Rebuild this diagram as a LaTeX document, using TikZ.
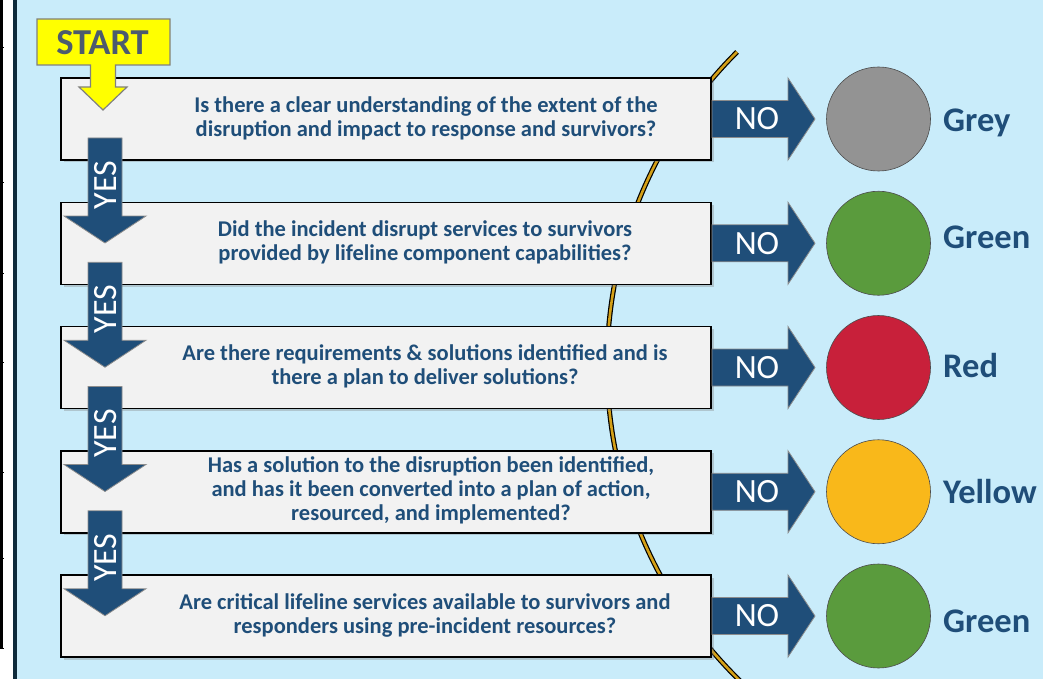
\documentclass[tikz,border=0pt]{standalone}
\usepackage{fontspec}
\setmainfont{Carlito}
\usetikzlibrary{shadows}
\definecolor{bg}{HTML}{C9ECFA}
\definecolor{navy}{HTML}{1F4E79}
\definecolor{boxfill}{HTML}{F2F2F2}
\definecolor{gold}{HTML}{D4A017}
\definecolor{cgrey}{HTML}{939393}
\definecolor{cgreen}{HTML}{5A9B3D}
\definecolor{cred}{HTML}{C8203A}
\definecolor{cyellow}{HTML}{F9B81A}
\definecolor{startcol}{HTML}{4C5B6E}
\definecolor{strip}{HTML}{0E2B3B}
\definecolor{startyellow}{HTML}{FFFF00}

\begin{document}
\begin{tikzpicture}[x=1pt,y=-1pt,
  qbox/.style={draw=black, line width=1.5pt, fill=boxfill, minimum width=650pt, minimum height=82pt, inner sep=0pt,
    drop shadow={shadow xshift=2.5pt, shadow yshift=-2.5pt, opacity=0.35}},
  qtxt/.style={text=navy, font=\fontsize{22.5}{24}\selectfont\bfseries, align=center, inner sep=0pt},
  blockarrow/.style={fill=navy, draw=black!45, line width=0.8pt},
  arrowtxt/.style={text=white, font=\fontsize{34}{34}\selectfont, inner sep=0pt},
  dot/.style={circle, draw=black!70, line width=0.6pt, minimum size=104pt, inner sep=0pt},
  colorlabel/.style={text=navy, font=\fontsize{34.5}{34.5}\selectfont\bfseries, anchor=base west, inner sep=0pt}
]
\useasboundingbox (0,0) rectangle (1043,679);
\clip (0,0) rectangle (1043,679);
% background
\fill[bg] (0,0) rectangle (1043,679);
\fill[white] (0,0) rectangle (13.3,679);
\fill[strip] (13.3,0) rectangle (17.3,679);
\draw[black, line width=2.5pt] (1.25,0) -- (1.25,648);
\foreach \t in {48,183,273,362,472,558,648}
  \draw[black, line width=1pt] (0,\t) -- (3.5,\t);

% curve behind boxes
\draw[black, line width=5pt] (737,52) arc[start angle=134.9, end angle=226, radius=441.8pt];
\draw[gold, line width=2.6pt] (737,52) arc[start angle=134.9, end angle=226, radius=441.8pt];

% question boxes
\node[qbox] (b1) at (386,119) {};
\node[qbox] (b2) at (386,243.25) {};
\node[qbox] (b3) at (386,367.5) {};
\node[qbox] (b4) at (386,491.75) {};
\node[qbox] (b5) at (386,616) {};

\node[qtxt] (t1) at (426,118) {Is there a clear understanding of the extent of the\\disruption and impact to response and survivors?};
\node[qtxt] (t2) at (425,242) {Did the incident disrupt services to survivors\\provided by lifeline component capabilities?};
\node[qtxt] (t3) at (425,366) {Are there requirements \& solutions identified and is\\there a plan to deliver solutions?};
\node[qtxt] (t4) at (431,490) {Has a solution to the disruption been identified,\\and has it been converted into a plan of action,\\resourced, and implemented?};
\node[qtxt] (t5) at (425,615) {Are critical lifeline services available to survivors and\\responders using pre-incident resources?};

% YES arrows
\foreach \k in {0,...,3}{
  \pgfmathsetmacro\T{138+124.25*\k}
  \draw[blockarrow] (88,\T) -- (122,\T) -- (122,{\T+78}) -- (146,{\T+78}) -- (105,{\T+105})
     -- (64,{\T+78}) -- (88,{\T+78}) -- cycle;
  \node[arrowtxt, rotate=90] (yes\k) at (106,{\T+47}) {YES};
}

% NO arrows, circles, labels
\foreach \k/\col/\lab/\dy in {0/cgrey/Grey/12.5,1/cgreen/Green/5.5,2/cred/Red/9.5,3/cyellow/Yellow/12,4/cgreen/Green/16}{
  \pgfmathsetmacro\Y{119+124.25*\k}
  \draw[blockarrow] (712,{\Y-18.5}) -- (788,{\Y-18.5}) -- (788,{\Y-41}) -- (815,\Y)
     -- (788,{\Y+41}) -- (788,{\Y+18.5}) -- (712,{\Y+18.5}) -- cycle;
  \node[arrowtxt] (no\k) at (757,\Y) {NO};
  \node[dot, fill=\col] (c\k) at (878.5,\Y) {};
  \node[colorlabel] (l\k) at (943,{\Y+\dy}) {\lab};
}

% START callout
\draw[fill=startyellow, draw=black!50, line width=1.2pt]
  (37,19) -- (170,19) -- (170,65) -- (115.5,65) -- (115.5,87) -- (127,87) -- (103,110)
  -- (79,87) -- (90.5,87) -- (90.5,65) -- (37,65) -- cycle;
\node[font=\fontsize{36.5}{36.5}\selectfont\bfseries, text=startcol, inner sep=0pt] (start) at (102.5,43) {START};
\end{tikzpicture}
\end{document}
